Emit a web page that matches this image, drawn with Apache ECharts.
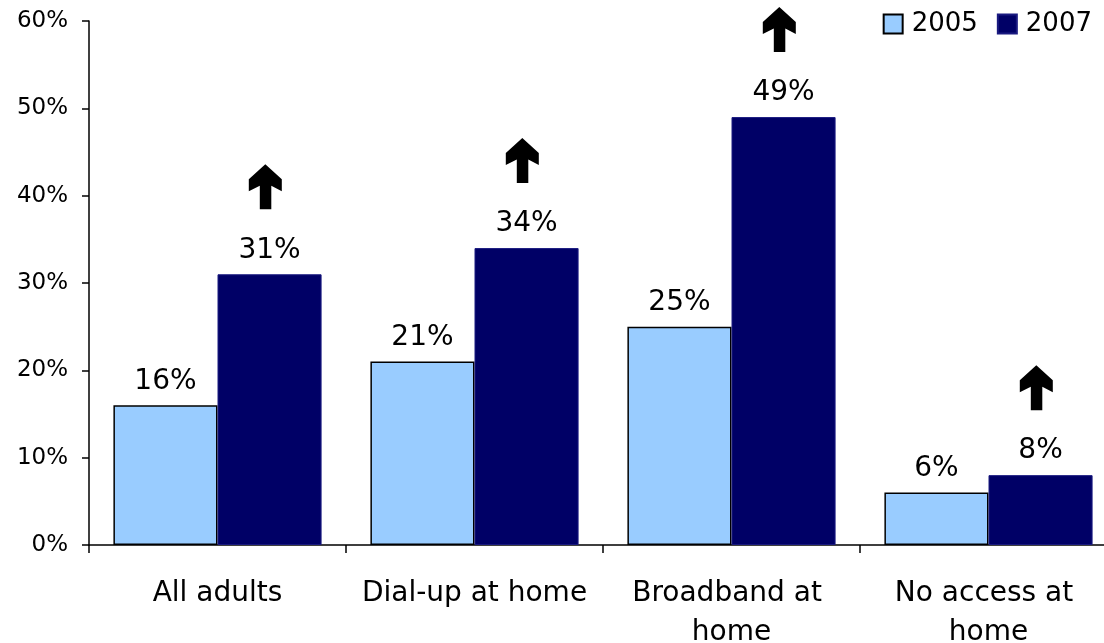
<!DOCTYPE html>
<html>
<head>
<meta charset="utf-8">
<script src="https://cdn.jsdelivr.net/npm/echarts@6/dist/echarts.min.js"></script>
<style>
html,body{margin:0;padding:0;background:#fff;}
#chart{width:1104px;height:643px;}
</style>
</head>
<body>
<div id="chart"></div>
<script>
var categories = ['All adults', 'Dial-up at home', 'Broadband at home', 'No access at home'];
var seriesNames = ['2005', '2007'];
var values2005 = [16, 21, 25, 6];
var values2007 = [31, 34, 49, 8];
var yTicks = [0, 10, 20, 30, 40, 50, 60];

var FONT = 'DejaVu Sans';
var chart = echarts.init(document.getElementById('chart'));

function arrowItem(params, api) {
  var c = api.coord([api.value(0), api.value(1)]);
  var w = api.size([1, 0])[0];
  var cx = c[0] + w * 0.186;
  var by = c[1] - 65;
  return {
    type: 'polygon',
    shape: {
      points: [
        [cx, by - 45], [cx + 16.5, by - 30], [cx + 16.5, by - 18], [cx + 6, by - 23.5],
        [cx + 6, by], [cx - 5.5, by], [cx - 5.5, by - 23.5], [cx - 16.5, by - 18], [cx - 16.5, by - 30]
      ]
    },
    style: { fill: '#000' }
  };
}

chart.setOption({
  backgroundColor: '#fff',
  animation: false,
  textStyle: { fontFamily: FONT },
  legend: {
    data: seriesNames,
    right: 7,
    top: 6,
    icon: 'rect',
    itemWidth: 19,
    itemHeight: 19,
    itemGap: 19,
    textStyle: { fontSize: 26, color: '#000', fontFamily: FONT, padding: [0, 0, 0, 4] }
  },
  grid: { left: 89, top: 21, width: 1028, height: 524, containLabel: false, outerBoundsMode: 'none' },
  xAxis: {
    type: 'category',
    data: categories,
    axisLine: { lineStyle: { color: '#000', width: 1.5 } },
    axisTick: { show: true, length: 8, alignWithLabel: false, lineStyle: { color: '#000', width: 1.5 } },
    axisLabel: {
      color: '#000', fontSize: 28, fontFamily: FONT, margin: 29, lineHeight: 39,
      width: 240, overflow: 'break', interval: 0
    }
  },
  yAxis: {
    type: 'value',
    min: yTicks[0],
    max: yTicks[yTicks.length - 1],
    interval: yTicks[1] - yTicks[0],
    splitLine: { show: false },
    axisLine: { show: true, lineStyle: { color: '#000', width: 1.5 } },
    axisTick: { show: true, length: 7, lineStyle: { color: '#000', width: 1.5 } },
    axisLabel: { color: '#000', fontSize: 23, fontFamily: FONT, margin: 21, formatter: '{value}%' }
  },
  series: [
    {
      name: seriesNames[0],
      type: 'bar',
      data: values2005,
      barGap: '0%',
      barCategoryGap: '19%',
      itemStyle: { color: '#99CCFF', borderColor: '#000', borderWidth: 1.5 },
      label: { show: true, position: 'top', distance: 10, fontSize: 28, color: '#000', fontFamily: FONT, formatter: '{c}%' }
    },
    {
      name: seriesNames[1],
      type: 'bar',
      data: values2007,
      barGap: '0%',
      barCategoryGap: '19%',
      itemStyle: { color: '#000066', borderColor: '#1a1a80', borderWidth: 1 },
      label: { show: true, position: 'top', distance: 10, fontSize: 28, color: '#000', fontFamily: FONT, formatter: '{c}%' }
    },
    {
      name: 'arrows',
      type: 'custom',
      renderItem: arrowItem,
      data: values2007.map(function (v, i) { return [i, v]; }),
      z: 5,
      silent: true
    }
  ]
});
</script>
</body>
</html>
